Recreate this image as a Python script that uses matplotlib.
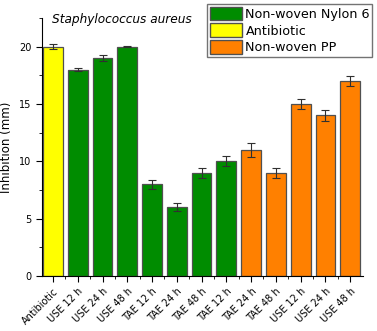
import matplotlib.pyplot as plt
import numpy as np
from matplotlib.patches import Patch
from matplotlib.ticker import MultipleLocator

# Inhibition zone data (mm)
labels = ["Antibiotic", "USE 12 h", "USE 24 h", "USE 48 h", "TAE 12 h", "TAE 24 h",
          "TAE 48 h", "TAE 12 h", "TAE 24 h", "TAE 48 h", "USE 12 h", "USE 24 h", "USE 48 h"]
values = [20, 18, 19, 20, 8, 6, 9, 10, 11, 9, 15, 14, 17]
errors = [0.2, 0.15, 0.3, 0.05, 0.4, 0.35, 0.45, 0.45, 0.6, 0.45, 0.45, 0.45, 0.45]
groups = ["ab"] + ["ny"] * 7 + ["pp"] * 5

colors = {"ny": "#008C00", "ab": "#FFFF00", "pp": "#FF8000"}
names = {"ny": "Non-woven Nylon 6", "ab": "Antibiotic", "pp": "Non-woven PP"}

fig = plt.figure(figsize=(3.77, 3.31), dpi=100)
ax = fig.add_axes([0.111, 0.166, 0.852, 0.780])

x = np.arange(len(values))
ax.bar(x, values, width=0.8, color=[colors[g] for g in groups],
       edgecolor="#505050", linewidth=0.9)
ax.errorbar(x, values, yerr=errors, fmt="none", ecolor="#303030",
            elinewidth=0.8, capsize=3, capthick=0.8)

ax.set_xlim(-0.45, 12.52)
ax.set_ylim(0, 22.5)
ax.spines["top"].set_visible(False)
ax.spines["right"].set_visible(False)
ax.yaxis.set_major_locator(MultipleLocator(5))
ax.yaxis.set_minor_locator(MultipleLocator(2.5))
ax.set_xticks(x)
ax.set_xticks(x[:-1] + 0.5, minor=True)
ax.set_xticklabels(labels, rotation=45, ha="right", rotation_mode="anchor", fontsize=7)
ax.tick_params(axis="y", labelsize=7, length=4)
ax.tick_params(axis="x", length=4)
ax.tick_params(which="minor", length=2)
ax.set_ylabel("Inhibition (mm)", fontsize=8.5, labelpad=4)

ax.text(0.25, 0.995, "Staphylococcus aureus", transform=ax.transAxes,
        fontsize=8.7, style="italic", ha="center", va="center")

handles = [Patch(facecolor=colors[k], edgecolor="#505050", label=names[k])
           for k in ["ny", "ab", "pp"]]
fig.legend(handles=handles, loc="upper right", bbox_to_anchor=(0.988, 0.988),
           fontsize=9.2, frameon=True, fancybox=False, edgecolor="#505050",
           handlelength=2.5, handleheight=1.3, handletextpad=0.3,
           labelspacing=0.2, borderpad=0.2, borderaxespad=0.0)

fig.savefig("out.png", dpi=100)
